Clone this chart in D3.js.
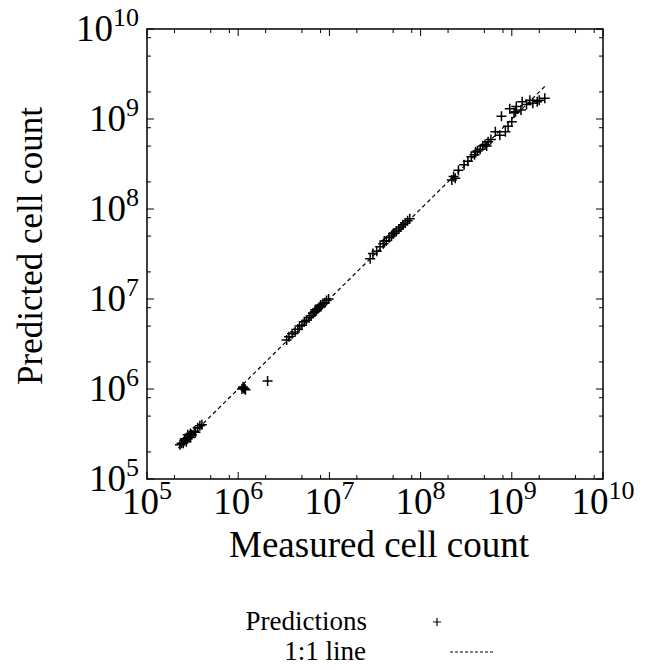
<!DOCTYPE html>
<html>
<head>
<meta charset="utf-8">
<script src="https://cdn.jsdelivr.net/npm/d3@7"></script>
<style>
  body { margin: 0; background: #fff; }
  text { font-family: "Liberation Serif", "DejaVu Serif", serif; fill: #000; }
</style>
</head>
<body>
<div id="chart"></div>
<script>
const WIDTH = 651;
const HEIGHT = 670;

// measured vs predicted cell counts
const measured = [
  2.3e5, 2.4e5, 2.5e5, 2.6e5, 2.6e5, 2.7e5, 2.8e5, 2.9e5, 3.0e5, 3.0e5, 3.1e5, 3.3e5, 3.4e5, 3.6e5, 3.8e5, 4.0e5, 2.8e5,
  1.10e6, 1.15e6, 1.20e6, 1.13e6, 1.18e6,
  2.1e6,
  3.4e6, 3.6e6, 3.9e6, 4.2e6, 4.5e6, 4.7e6, 5.0e6, 5.3e6, 5.6e6, 6.0e6, 6.3e6, 6.6e6, 6.9e6, 7.2e6, 7.5e6, 7.8e6, 8.1e6, 8.5e6, 8.9e6, 9.3e6, 9.8e6, 7.0e6, 8.0e6,
  2.8e7, 3.0e7, 3.3e7, 3.6e7, 3.9e7, 4.2e7, 4.5e7, 4.8e7, 5.1e7, 5.4e7, 5.8e7, 6.1e7, 6.4e7, 6.8e7, 7.2e7, 7.6e7, 4.0e7, 5.0e7,
  2.2e8, 2.3e8, 2.4e8, 2.6e8, 3.0e8, 3.3e8, 3.6e8, 3.9e8, 4.2e8, 4.5e8, 4.8e8, 5.1e8, 5.5e8, 5.9e8, 5.3e8, 4.0e8,
  6.6e8, 7.4e8, 7.7e8, 8.5e8, 9.1e8, 9.5e8, 1.0e9, 1.06e9, 1.12e9, 1.26e9, 1.3e9, 1.58e9, 1.7e9, 2.0e9, 2.3e9, 1.9e9, 1.45e9, 1.1e9
];
const predicted = [
  2.4e5, 2.5e5, 2.5e5, 2.7e5, 2.8e5, 2.6e5, 2.9e5, 3.0e5, 2.9e5, 3.2e5, 3.1e5, 3.4e5, 3.3e5, 3.7e5, 3.9e5, 4.0e5, 3.1e5,
  1.00e6, 1.02e6, 0.98e6, 1.05e6, 1.00e6,
  1.23e6,
  3.5e6, 3.8e6, 4.1e6, 4.3e6, 4.6e6, 5.0e6, 5.1e6, 5.6e6, 5.8e6, 6.2e6, 6.5e6, 7.0e6, 7.2e6, 7.4e6, 7.8e6, 8.1e6, 8.3e6, 8.9e6, 9.1e6, 9.6e6, 10.0e6, 7.6e6, 8.6e6,
  2.8e7, 3.2e7, 3.4e7, 3.8e7, 4.1e7, 4.4e7, 4.8e7, 5.0e7, 5.4e7, 5.7e7, 6.0e7, 6.3e7, 6.7e7, 7.0e7, 7.4e7, 7.8e7, 4.4e7, 5.3e7,
  2.1e8, 2.3e8, 2.2e8, 2.7e8, 3.1e8, 3.4e8, 3.8e8, 4.0e8, 4.4e8, 4.6e8, 5.0e8, 5.2e8, 5.6e8, 5.9e8, 5.0e8, 4.3e8,
  7.2e8, 6.6e8, 1.07e9, 7.2e8, 8.3e8, 1.3e9, 9.3e8, 1.17e9, 1.38e9, 1.26e9, 1.55e9, 1.62e9, 1.5e9, 1.62e9, 1.7e9, 1.55e9, 1.45e9, 1.2e9
];
const lineEnds = [2.2e5, 2.3e9];          // extent of the 1:1 line
const decades = [5, 6, 7, 8, 9, 10];      // tick exponents
const minorMults = [2, 5, 8];
const legendLabels = ['Predictions', '1:1 line'];

const margin = { left: 147, top: 29, right: 48, bottom: 191 };
const w = WIDTH - margin.left - margin.right;
const h = HEIGHT - margin.top - margin.bottom;

const svg = d3.select('#chart').append('svg')
  .attr('width', WIDTH)
  .attr('height', HEIGHT);

const g = svg.append('g').attr('transform', `translate(${margin.left},${margin.top})`);

const x = d3.scaleLog().domain([1e5, 1e10]).range([0, w]);
const y = d3.scaleLog().domain([1e5, 1e10]).range([h, 0]);

const majorVals = decades.map(e => Math.pow(10, e));
const minorVals = [];
decades.slice(0, -1).forEach(e => minorMults.forEach(m => minorVals.push(m * Math.pow(10, e))));

// inward ticks on all four sides
const tickG = g.append('g').attr('stroke', '#000').attr('stroke-width', 1);
function ticks(vals, len) {
  vals.forEach(v => {
    const px = x(v), py = y(v);
    tickG.append('line').attr('x1', px).attr('x2', px).attr('y1', h).attr('y2', h - len);
    tickG.append('line').attr('x1', px).attr('x2', px).attr('y1', 0).attr('y2', len);
    tickG.append('line').attr('y1', py).attr('y2', py).attr('x1', 0).attr('x2', len);
    tickG.append('line').attr('y1', py).attr('y2', py).attr('x1', w).attr('x2', w - len);
  });
}
ticks(majorVals, 7);
ticks(minorVals, 4);

g.append('rect')
  .attr('width', w).attr('height', h)
  .attr('fill', 'none').attr('stroke', '#000').attr('stroke-width', 1.5);

// tick labels, 10 with superscript exponent
function powLabel(sel, e) {
  sel.append('tspan').text('10');
  sel.append('tspan').attr('font-size', 26).attr('dy', -15).text(e);
}
decades.forEach(e => {
  const v = Math.pow(10, e);
  g.append('text')
    .attr('x', x(v)).attr('y', h + 35)
    .attr('text-anchor', 'middle').attr('font-size', 37)
    .call(powLabel, e);
  g.append('text')
    .attr('x', -8).attr('y', y(v) + 12)
    .attr('text-anchor', 'end').attr('font-size', 37)
    .call(powLabel, e);
});

// axis titles
svg.append('text')
  .attr('x', margin.left + w / 2 + 4).attr('y', 557)
  .attr('text-anchor', 'middle').attr('font-size', 37)
  .text('Measured cell count');
svg.append('text')
  .attr('transform', 'translate(42,246) rotate(-90)')
  .attr('text-anchor', 'middle').attr('font-size', 35)
  .text('Predicted cell count');

// 1:1 line
g.append('line')
  .attr('x1', x(lineEnds[0])).attr('y1', y(lineEnds[0]))
  .attr('x2', x(lineEnds[1])).attr('y2', y(lineEnds[1]))
  .attr('stroke', '#000').attr('stroke-width', 1.2)
  .attr('stroke-dasharray', '4,3');

// plus markers
const plus = 'M-5,0H5M0,-5V5';
g.append('g')
  .selectAll('path')
  .data(measured.map((m, i) => [m, predicted[i]]))
  .enter().append('path')
  .attr('d', plus)
  .attr('transform', d => `translate(${x(d[0])},${y(d[1])})`)
  .attr('stroke', '#000').attr('stroke-width', 1.5);

// legend
const leg = svg.append('g');
leg.append('text').attr('x', 367).attr('y', 630).attr('text-anchor', 'end').attr('font-size', 27).text(legendLabels[0]);
leg.append('text').attr('x', 366).attr('y', 660).attr('text-anchor', 'end').attr('font-size', 27).text(legendLabels[1]);
leg.append('path').attr('d', 'M-4,0H4M0,-4V4').attr('transform', 'translate(437,622)')
  .attr('stroke', '#000').attr('stroke-width', 1.2);
leg.append('line').attr('x1', 450).attr('x2', 494).attr('y1', 652).attr('y2', 652)
  .attr('stroke', '#000').attr('stroke-width', 1.2).attr('stroke-dasharray', '3,2');
</script>
</body>
</html>
